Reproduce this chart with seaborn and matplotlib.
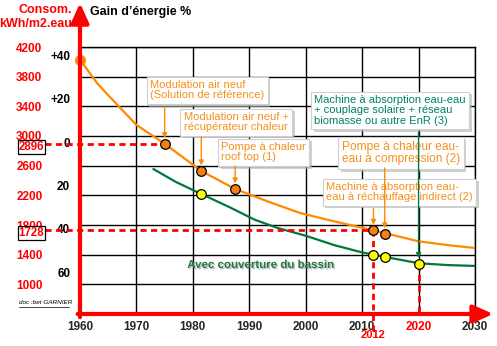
import matplotlib
matplotlib.use("Agg")
import matplotlib.pyplot as plt
import matplotlib.patheffects as pe
from matplotlib.lines import Line2D
from matplotlib.transforms import blended_transform_factory
import numpy as np
import pandas as pd
import seaborn as sns

# --- data -------------------------------------------------------------------
# consumption curve without pool cover (kWh/m2 of water)
orange_years = [1960, 1963, 1965.3, 1970, 1975, 1981.5, 1987.5, 1993.5, 1999, 2005, 2012, 2020, 2025, 2030]
orange_values = [4030, 3715, 3526, 3149, 2896, 2528, 2286, 2111, 1962, 1850, 1728, 1580, 1530, 1490]

# consumption curve with pool cover
green_years = [1973, 1977, 1981.5, 1986.5, 1991, 1995, 2000, 2005, 2010, 2012, 2014, 2020, 2025, 2030]
green_values = [2555, 2380, 2218, 2040, 1870, 1760, 1655, 1530, 1430, 1400, 1370, 1285, 1260, 1248]

# solutions (orange points) and the same solutions with pool cover (yellow points)
solution_years = [1975, 1981.5, 1987.5, 2012, 2014]
solution_values = [2896, 2528, 2286, 1728, 1680]
covered_years = [1981.5, 2012, 2014, 2020]
covered_values = [2218, 1400, 1370, 1280]

start_year = [1960]
start_value = [4030]

reference_value = 2896
target_value = 1728
target_year = 2012
goal_year = 2020

x_ticks = [1960, 1970, 1980, 1990, 2000, 2010, 2020, 2030]
y_ticks = [1000, 1400, 1800, 2200, 2600, 3000, 3400, 3800, 4200]
gain_labels = ["+40", "+20", "0", "20", "40", "60"]
gain_values = [-40, -20, 0, 20, 40, 60]

RED = "#FF0000"
ORANGE = "#FF8A00"
ORANGE_TXT = "#F5901C"
ORANGE_PT = "#F57F17"
GREEN = "#00783C"
GREEN_TXT = "#00806A"

# --- figure -----------------------------------------------------------------
sns.set_theme(style="white")
plt.rcParams["font.family"] = ["Liberation Sans", "DejaVu Sans"]

fig = plt.figure(figsize=(4.97, 3.46), dpi=100)
ax = fig.add_axes([80 / 497, 32 / 346, 395 / 497, 267 / 346])

# curves
orange_df = pd.DataFrame({"year": orange_years, "value": orange_values})
green_df = pd.DataFrame({"year": green_years, "value": green_values})
sns.lineplot(data=orange_df, x="year", y="value", color=ORANGE, lw=1.6, ax=ax, zorder=3)
sns.lineplot(data=green_df, x="year", y="value", color=GREEN, lw=1.6, ax=ax, zorder=3)

ax.set_xlim(1960, 2030)
ax.set_ylim(600, 4200)

ax.set_xticks(x_ticks)
ax.set_xticklabels([str(t) for t in x_ticks], fontweight="bold", fontsize=8.5)
for lab in ax.get_xticklabels():
    if lab.get_text() == str(goal_year):
        lab.set_color(RED)
ax.set_yticks(y_ticks)
ax.set_yticklabels([str(t) for t in y_ticks], color=RED, fontweight="bold", fontsize=8.5)
ax.tick_params(axis="x", length=0, pad=5)
ax.tick_params(axis="y", length=0, pad=27)
ax.grid(True, color="black", lw=1)
ax.set_axisbelow(True)
for side in ("top", "right"):
    ax.spines[side].set_color("black")
    ax.spines[side].set_linewidth(1)
for side in ("left", "bottom"):
    ax.spines[side].set_visible(False)

# dashed reference lines
dash = (0, (2.2, 1.6))
ax.plot([1953.8, 1975], [reference_value, reference_value], color=RED, lw=2,
        ls=dash, clip_on=False, zorder=4)
ax.plot([1953.8, target_year], [target_value, target_value], color=RED, lw=2,
        ls=dash, clip_on=False, zorder=4)
ax.plot([target_year, target_year], [target_value, 330], color=RED, lw=2,
        ls=dash, clip_on=False, zorder=4)
ax.plot([goal_year, goal_year], [covered_values[-1], 600], color=RED, lw=2,
        ls=dash, clip_on=False, zorder=4)

# points
sns.scatterplot(x=start_year, y=start_value, color=ORANGE, s=55, edgecolor=ORANGE,
                ax=ax, zorder=5, clip_on=False)
sns.scatterplot(x=solution_years, y=solution_values, color=ORANGE_PT, s=48,
                edgecolor="black", linewidth=0.9, ax=ax, zorder=6)
sns.scatterplot(x=covered_years, y=covered_values, color="#FFFF00", s=48,
                edgecolor="black", linewidth=0.9, ax=ax, zorder=6)
ax.set_xlabel("")
ax.set_ylabel("")

# annotation boxes
def note(x, y, text, color, size=8):
    t = ax.text(x, y, text, color=color, fontsize=size, ha="left", va="top",
                linespacing=1.05, zorder=7,
                bbox=dict(boxstyle="square,pad=0.3", fc="white", ec="#CFCFCF", lw=0.8))
    t.get_bbox_patch().set_path_effects([
        pe.SimplePatchShadow(offset=(2, -2), shadow_rgbFace="#B0B0B0", alpha=0.6),
        pe.Normal()])
    return t

def pointer(x, y_from, y_to, color):
    ax.annotate("", xy=(x, y_to), xytext=(x, y_from),
                arrowprops=dict(arrowstyle="-|>", color=color, lw=1,
                                mutation_scale=7, shrinkA=0, shrinkB=4),
                zorder=8)

note(1972.4, 3755, "Modulation air neuf\n(Solution de référence)", ORANGE_TXT)
note(1978.4, 3324, "Modulation air neuf +\nrécupérateur chaleur", ORANGE_TXT)
note(1985.0, 2919, "Pompe à chaleur\nroof top (1)", ORANGE_TXT)
note(2001.5, 3553, "Machine à absorption eau-eau\n+ couplage solaire + réseau\nbiomasse ou autre EnR (3)",
     GREEN_TXT, 8)
note(2006.4, 2933, "Pompe à chaleur eau-\neau à compression (2)", ORANGE_TXT, 8.6)
note(2003.6, 2380, "Machine à absorption eau-\neau à réchauffage indirect (2)", ORANGE_TXT, 8)

pointer(solution_years[0], 3391, solution_values[0], ORANGE)
pointer(solution_years[1], 2987, solution_values[1], ORANGE)
pointer(solution_years[2], 2596, solution_values[2], ORANGE)
pointer(solution_years[3], 2030, solution_values[3], ORANGE)
pointer(solution_years[4], 2569, solution_values[4], ORANGE)
pointer(covered_years[3], 3054, covered_values[3], GREEN)

ax.text(1979.0, 1261, "Avec couverture du bassin", color="#1F7A3A", fontsize=8.3,
        fontweight="bold", ha="left", va="center", zorder=7,
        path_effects=[pe.withSimplePatchShadow(offset=(1, -1), shadow_rgbFace="#808080", alpha=0.5)])

# red axes with arrows
ax.annotate("", xy=(0, 1.165), xytext=(0, -0.012), xycoords="axes fraction",
            arrowprops=dict(arrowstyle="-|>,head_length=1.0,head_width=0.45",
                            color=RED, lw=3, shrinkA=0, shrinkB=0),
            annotation_clip=False, zorder=10)
ax.annotate("", xy=(1.046, 0), xytext=(-0.006, 0), xycoords="axes fraction",
            arrowprops=dict(arrowstyle="-|>,head_length=1.0,head_width=0.45",
                            color=RED, lw=3, shrinkA=0, shrinkB=0),
            annotation_clip=False, zorder=10)

# left-hand labels
tr = blended_transform_factory(ax.transAxes, ax.transData)
for v in (reference_value, target_value):
    ax.annotate(str(v), xy=(-0.091, v), xycoords=tr, xytext=(0, -3),
                textcoords="offset pixels", color=RED, fontweight="bold", fontsize=8.3,
                ha="right", va="center", zorder=9, annotation_clip=False,
                bbox=dict(boxstyle="square,pad=0.08", fc="white", ec="black", lw=0.9))
for lab, g in zip(gain_labels, gain_values):
    v = reference_value - g / 40 * (reference_value - target_value)
    ax.text(-0.025, v, lab, transform=tr, color="black", fontweight="bold", fontsize=8.5,
            ha="right", va="center", zorder=3)

ax.text(target_year, 317, str(target_year), color=RED, fontweight="bold", fontsize=8,
        ha="center", va="center", clip_on=False, zorder=3)

fig.text(72 / 497, 1 - 10 / 346, "Consom.", color=RED, fontweight="bold", fontsize=9,
         ha="right", va="center")
fig.text(72 / 497, 1 - 24 / 346, "kWh/m2.eau", color=RED, fontweight="bold", fontsize=9,
         ha="right", va="center")
fig.text(90 / 497, 1 - 12 / 346, "Gain d’énergie %", color="black", fontweight="bold",
         fontsize=9, ha="left", va="center")

fig.text(19 / 497, 1 - 303 / 346, "doc :bet GARNIER", color="black", fontsize=4.6,
         ha="left", va="center", fontstyle="italic")
fig.add_artist(Line2D([19 / 497, 69 / 497], [1 - 307 / 346, 1 - 307 / 346],
                      color="black", lw=0.5))

fig.savefig("out.png", dpi=100)
